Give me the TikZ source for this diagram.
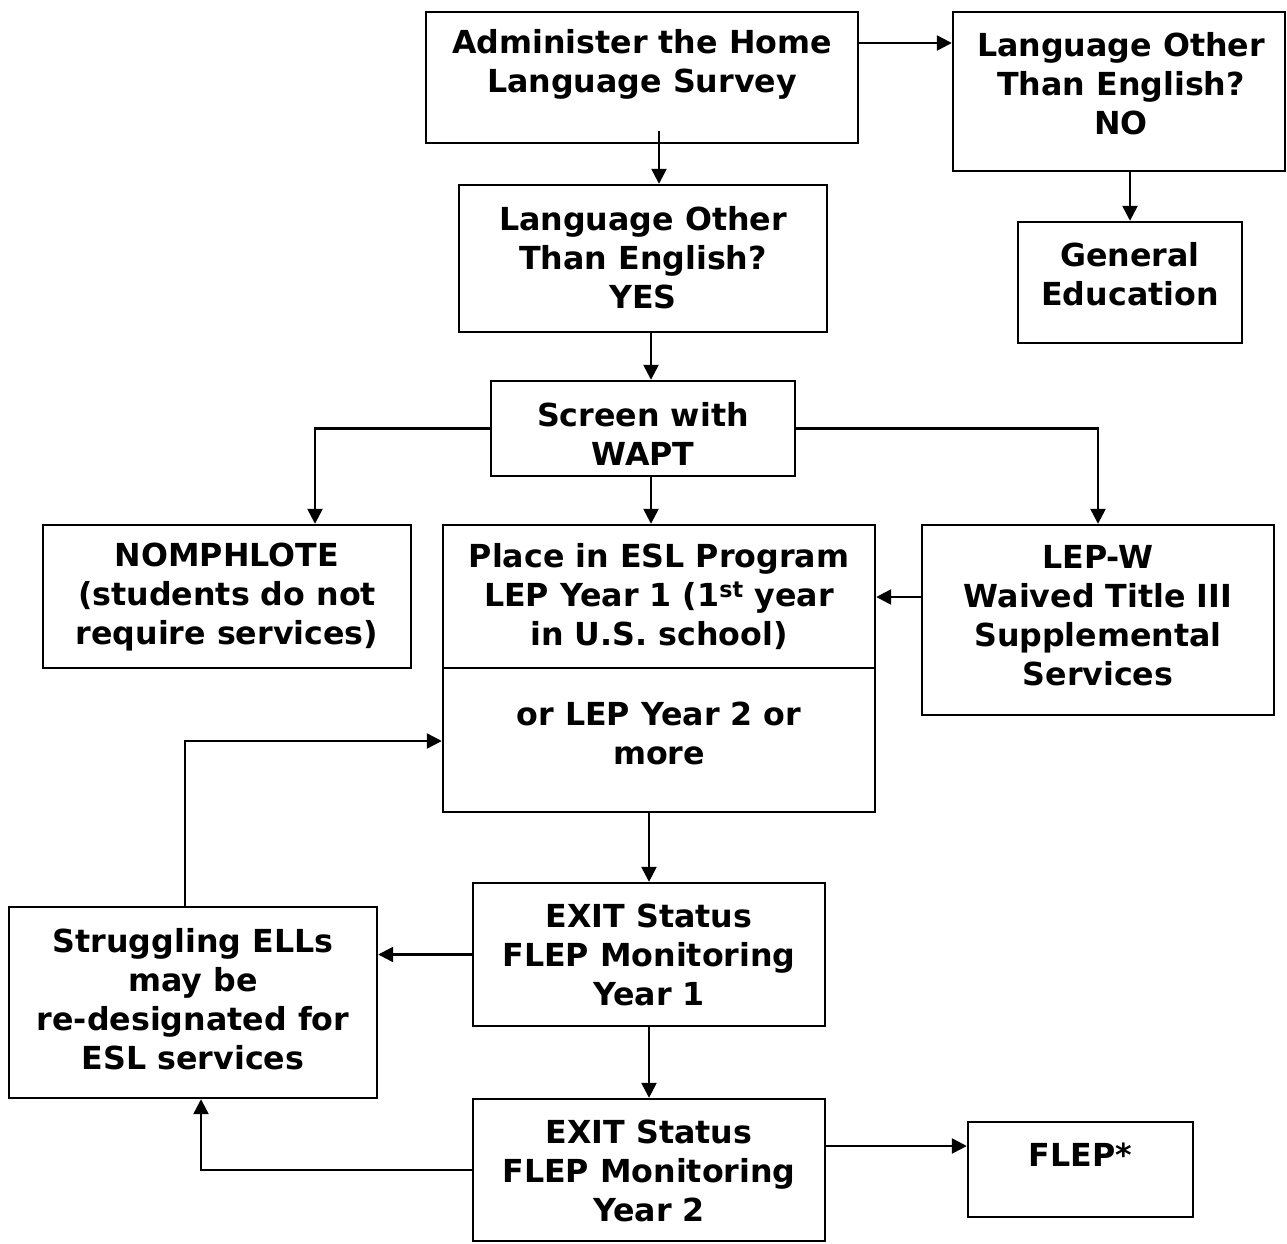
\documentclass[tikz,border=0pt]{standalone}
\usepackage{fontspec}
\setmainfont{DejaVu Sans}
\usepackage{tikz}
\usetikzlibrary{arrows.meta, positioning, calc}

\tikzset{
  box/.style={draw, line width=2.4pt, inner sep=0pt},
  txt/.style={font=\fontsize{31.7}{39}\selectfont\bfseries, align=center, inner sep=0pt},
  arr/.style={line width=2.4pt, -{Triangle[length=15pt, width=15pt]}}
}

\begin{document}
\begin{tikzpicture}[x=1pt, y=-1pt]
  \useasboundingbox (0,0) rectangle (1287,1243);

  % Boxes
  \node[box, minimum width=432, minimum height=131] (admin) at (642, 77.5) {};
  \node[box, minimum width=332, minimum height=159] (no) at (1119, 91.5) {};
  \node[box, minimum width=224, minimum height=121] (gened) at (1130, 282.5) {};
  \node[box, minimum width=368, minimum height=147] (yes) at (643, 258.5) {};
  \node[box, minimum width=304, minimum height=95] (screen) at (643, 428.5) {};
  \node[box, minimum width=368, minimum height=143] (nomph) at (227, 596.5) {};
  \node[box, minimum width=432, minimum height=287] (esl) at (659, 668.5) {};
  \node[box, minimum width=352, minimum height=190] (lepw) at (1098, 620) {};
  \node[box, minimum width=352, minimum height=143] (exit1) at (649, 954.5) {};
  \node[box, minimum width=368, minimum height=191] (strug) at (193, 1002.5) {};
  \node[box, minimum width=352, minimum height=142] (exit2) at (649, 1170) {};
  \node[box, minimum width=225, minimum height=95] (flep) at (1080.5, 1169.5) {};

  % Divider in the ESL box
  \draw[line width=2.4pt] ([yshift=-144pt]esl.north west) -- ([yshift=-144pt]esl.north east);

  % Texts
  \node[txt] (adminT) at (642, 64.5) {Administer the Home\\Language Survey};
  \node[txt] (noT) at (1121, 84) {Language Other\\Than English?\\NO};
  \node[txt] (genedT) at (1130, 274.5) {General\\Education};
  \node[txt] (yesT) at (643, 258) {Language Other\\Than English?\\YES};
  \node[txt] (screenT) at (643, 433.5) {Screen with\\WAPT};
  \node[txt] (nomphT) at (227, 597) {NOMPHLOTE\\(students do not\\require services)};
  \node[txt] (eslT) at (659, 597) {Place in ESL Program\\LEP Year 1 (1\textsuperscript{st} year\\in U.S. school)};
  \node[txt] (eslT2) at (659, 733.5) {or LEP Year 2 or\\more};
  \node[txt] (lepwT) at (1098, 616) {LEP-W\\Waived Title III\\Supplemental\\Services};
  \node[txt] (exit1T) at (649, 955) {EXIT Status\\FLEP Monitoring\\Year 1};
  \node[txt] (strugT) at (193, 999) {Struggling ELLs\\may be\\re-designated for\\ESL services};
  \node[txt] (exit2T) at (649, 1171) {EXIT Status\\FLEP Monitoring\\Year 2};
  \node[txt] (flepT) at (1080.5, 1155) {FLEP*};

  % Connector ends
  \coordinate (noIn) at ([yshift=48.5pt]no.west);
  \coordinate (adminOut) at ([xshift=17pt, yshift=13pt]admin.south);
  \coordinate (yesOut) at ([xshift=8pt]yes.south);
  \coordinate (scrOut) at ([xshift=8pt]screen.south);
  \coordinate (nomphIn) at ([xshift=88pt]nomph.north);
  \coordinate (lepwOut) at ([yshift=23pt]lepw.west);
  \coordinate (eslIn) at ([yshift=-72.5pt]esl.west);
  \coordinate (flepIn) at ([yshift=23.5pt]flep.west);

  % Connectors
  \draw[arr] (noIn -| admin.east) -- (noIn);
  \draw[arr] (adminOut) -- (adminOut |- yes.north);
  \draw[arr] (no.south -| gened.north) -- (gened.north);
  \draw[arr] (yesOut) -- (yesOut |- screen.north);
  \draw[arr] (screen.west) -| (nomphIn);
  \draw[arr] (scrOut) -- (scrOut |- esl.north);
  \draw[arr] (screen.east) -| (lepw.north);
  \draw[arr] (lepwOut) -- (lepwOut -| esl.east);
  \draw[arr] (esl.south -| exit1.north) -- (exit1.north);
  \draw[arr] (exit1.west) -- (exit1.west -| strug.east);
  \draw[arr] (exit1.south) -- (exit2.north);
  \draw[arr] (flepIn -| exit2.east) -- (flepIn);
  \draw[arr] (exit2.west) -| ([xshift=8pt]strug.south);
  \draw[arr] ([xshift=-8pt]strug.north) |- (eslIn);
\end{tikzpicture}
\end{document}
